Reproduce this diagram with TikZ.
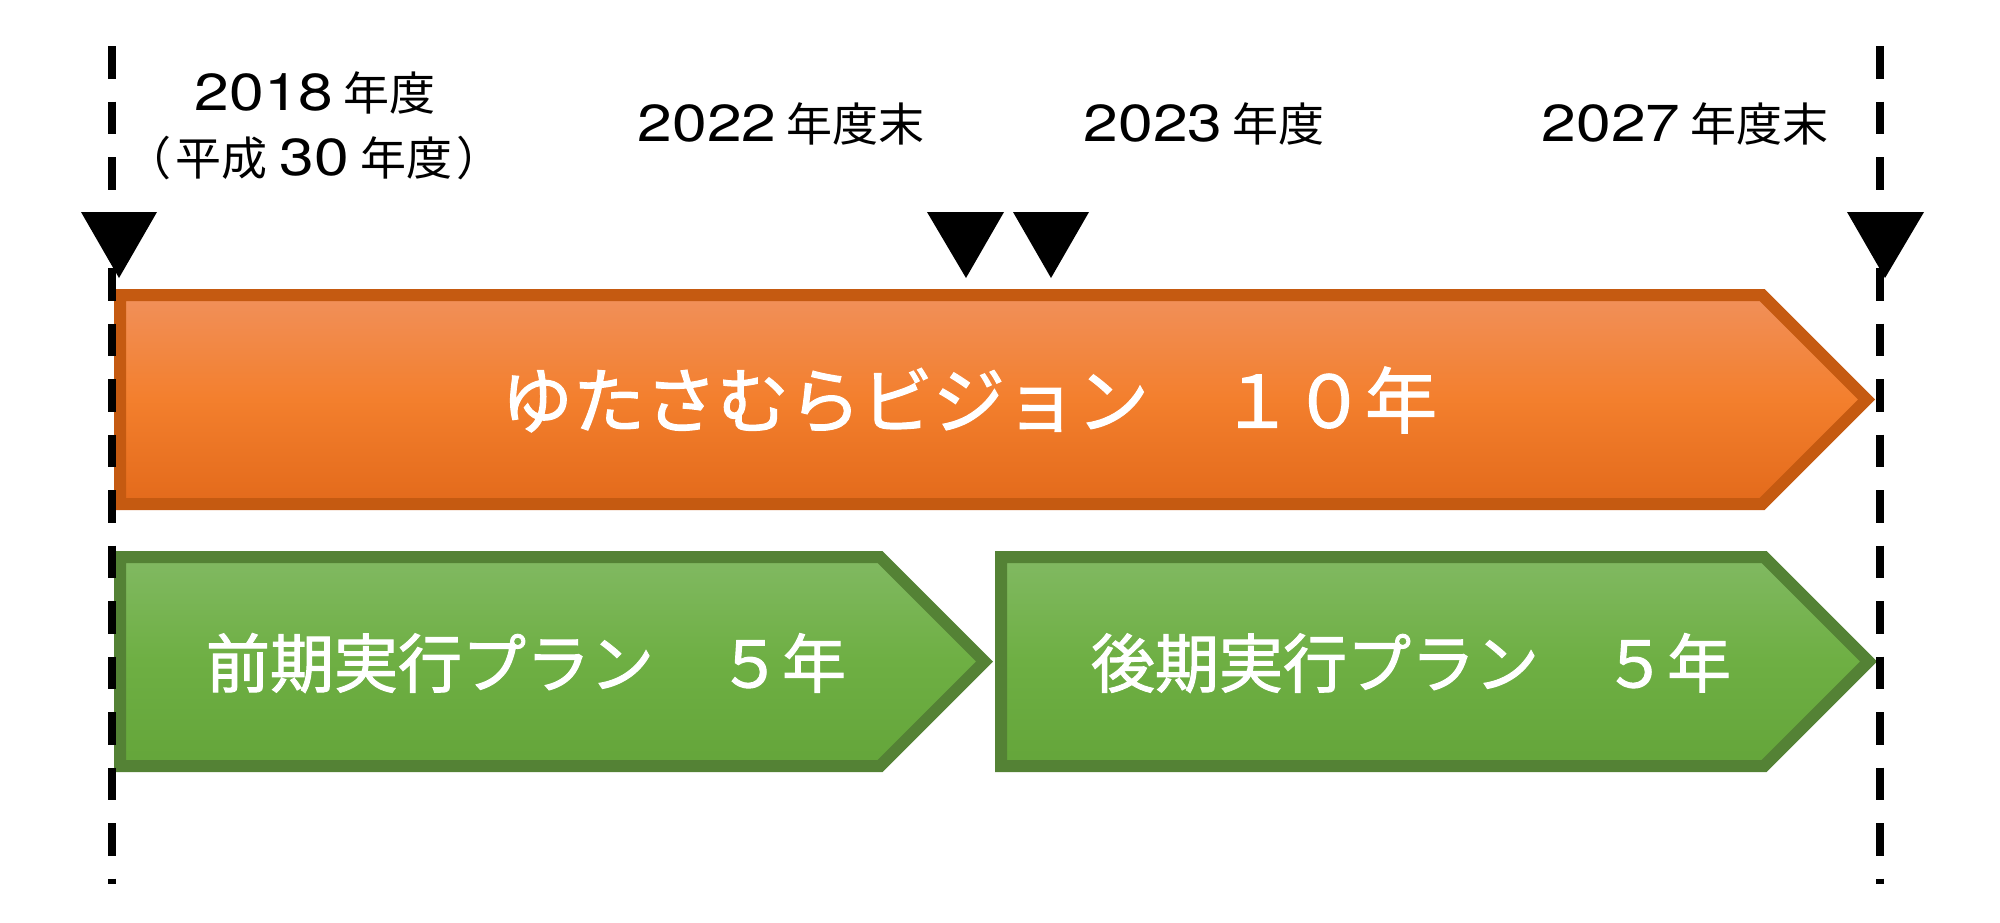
\documentclass[tikz,border=0pt]{standalone}
\usepackage{fontspec}
\setmainfont{Noto Sans CJK JP}
\newfontfamily\jp{Noto Sans CJK JP}
\newfontfamily\jpw[FakeBold=1.6]{Noto Sans CJK JP}
\newfontfamily\dg[FakeStretch=1.2]{TeX Gyre Heros}
\definecolor{obord}{HTML}{C55A11}
\definecolor{otop}{HTML}{F1905A}
\definecolor{omid}{HTML}{F37F2D}
\definecolor{obot}{HTML}{E36A1B}
\definecolor{gbord}{HTML}{548235}
\definecolor{gtop}{HTML}{81B962}
\definecolor{gmid}{HTML}{6EAF43}
\definecolor{gbot}{HTML}{64A53A}
\tikzset{
  orangearrow/.style={draw=obord, line width=6pt, line join=miter, top color=otop, bottom color=obot, middle color=omid},
  greenarrow/.style={draw=gbord, line width=6pt, line join=miter, top color=gtop, bottom color=gbot, middle color=gmid},
  dline/.style={draw=black, line width=4pt, dash pattern=on 16.25pt off 11.5pt},
  marker/.style={fill=black},
  lbl/.style={inner sep=0pt, text=black},
  bigtxt/.style={inner sep=0pt, text=white, font=\jpw\fontsize{36pt}{40pt}\selectfont},
  midtxt/.style={inner sep=0pt, text=white, font=\jpw\fontsize{32pt}{36pt}\selectfont},
}
\newcommand{\yrlab}[2]{{\fontsize{26pt}{30pt}\dg #1}\hspace{5pt}{\fontsize{23pt}{28pt}\jp #2}}
\begin{document}
\begin{tikzpicture}[x=0.5pt,y=-0.5pt]
\useasboundingbox (0,0) rectangle (2000,922);
% arrows
\path[orangearrow] (120,295) -- (1762,295) -- (1866.5,399.5) -- (1762,504) -- (120,504) -- cycle;
\path[greenarrow] (120,557) -- (880,557) -- (984.5,661.5) -- (880,766) -- (120,766) -- cycle;
\path[greenarrow] (1001,557) -- (1764,557) -- (1868.5,661.5) -- (1764,766) -- (1001,766) -- cycle;
% arrow texts
\node[bigtxt] (vision) at (969,400) {ゆたさむらビジョン　１０年};
\node[midtxt] (zenki) at (526,663) {前期実行プラン　５年};
\node[midtxt] (kouki) at (1411,663) {後期実行プラン　５年};
% labels
\node[lbl] (l2018) at (315,93) {\yrlab{2018}{年度}};
\node[lbl] (lheisei) at (314,158) {{\fontsize{23pt}{28pt}\jp （\hspace{2pt}平成}\hspace{6pt}{\fontsize{26pt}{30pt}\dg 30}\hspace{6pt}{\fontsize{23pt}{28pt}\jp 年度\hspace{2pt}）}};
\node[lbl] (l2022) at (781,124) {\yrlab{2022}{年度末}};
\node[lbl] (l2023) at (1204,124) {\yrlab{2023}{年度}};
\node[lbl] (l2027) at (1685,124) {\yrlab{2027}{年度末}};
% dashed lines
\coordinate (ltop) at (112,46);
\coordinate (lbot) at (112,884);
\coordinate (rtop) at (1880,46);
\coordinate (rbot) at (1880,884);
\draw[dline] (ltop) -- (lbot);
\draw[dline] (rtop) -- (rbot);
% markers
\fill[marker] (81,212) -- (157,212) -- (119,278) -- cycle;
\fill[marker] (927,212) -- (1004,212) -- (966,278) -- cycle;
\fill[marker] (1013,212) -- (1089,212) -- (1051,278) -- cycle;
\fill[marker] (1847,212) -- (1924,212) -- (1885,278) -- cycle;
\end{tikzpicture}
\end{document}
